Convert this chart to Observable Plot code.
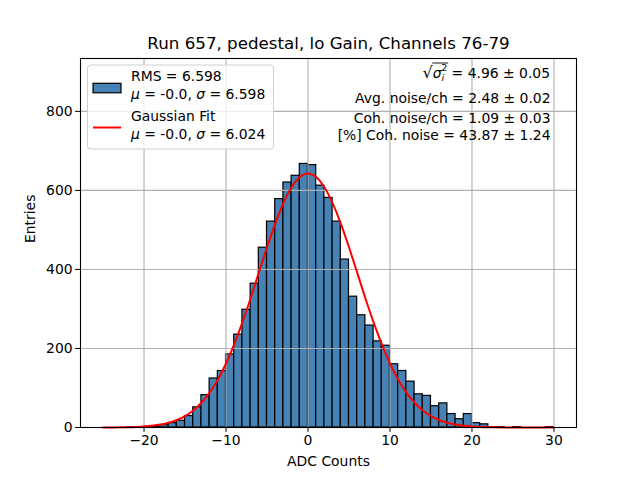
<!DOCTYPE html>
<html>
<head>
<meta charset="utf-8">
<script src="https://cdn.jsdelivr.net/npm/d3@7"></script>
<script src="https://cdn.jsdelivr.net/npm/@observablehq/plot@0.6"></script>
<style>
  html, body { margin: 0; padding: 0; background: white; }
  svg text { font-family: "DejaVu Sans", sans-serif; }
</style>
</head>
<body>
<div id="chart"></div>
<script>
// Histogram bins (left edges, width 1) and counts
const binStarts = [-22,-21,-20,-19,-18,-17,-16,-15,-14,-13,-12,-11,-10,-9,-8,-7,-6,-5,-4,-3,-2,-1,0,1,2,3,4,5,6,7,8,9,10,11,12,13,14,15,16,17,18,19,20,21,22,23,24,25,26,27,28,29];
const counts    = [1,1,2,3,6,11,17,29,51,82,124,143,185,235,298,364,455,521,578,620,637,667,664,612,581,521,425,331,284,258,218,207,160,143,116,84,80,54,61,34,21,34,11,8,1,1,0,1,0,0,0,1];
const binWidth = 1;

// Gaussian fit curve
const fitX = [-25,-24,-23,-22,-21,-20,-19,-18,-17,-16,-15,-14,-13,-12,-11,-10,-9,-8,-7,-6,-5,-4,-3,-2,-1,0,1,2,3,4,5,6,7,8,9,10,11,12,13,14,15,16,17,18,19,20,21,22,23,24,25,26,27,28,29,30];
const fitY = [0.12,0.23,0.44,0.82,1.48,2.6,4.45,7.4,12.0,18.9,29.0,43.2,62.7,88.4,121,162,211,266,327,392,456,516,568,608,634,643,634,608,568,516,456,392,327,266,211,162,121,88.4,62.7,43.2,29.0,18.9,12.0,7.4,4.45,2.6,1.48,0.82,0.44,0.23,0.12,0.06,0.03,0.01,0.005,0.002];

// Tick labels
const xTicks = [-20,-10,0,10,20,30];
const yTicks = [0,200,400,600,800];

const title = "Run 657, pedestal, lo Gain, Channels 76-79";
const xLabel = "ADC Counts";
const yLabel = "Entries";
const statLines = ["Avg. noise/ch = 2.48 ± 0.02", "Coh. noise/ch = 1.09 ± 0.03", "[%] Coh. noise = 43.87 ± 1.24"];
const statOffsets = [34.4, 54.4, 71.2];

const bins = binStarts.map((s, i) => ({x1: s, x2: s + binWidth, y: counts[i]})).filter(d => d.y > 0);
const fit = fitX.map((x, i) => ({x, y: fitY[i]}));

const fs = 13.9;
const plot = Plot.plot({
  width: 640,
  height: 480,
  marginLeft: 80,
  marginRight: 64,
  marginTop: 58,
  marginBottom: 53,
  style: {fontFamily: "DejaVu Sans", fontSize: fs + "px", color: "black", background: "white"},
  x: {domain: [-27.75, 32.75]},
  y: {domain: [0, 933.8]},
  marks: [
    Plot.rectY(bins, {x1: "x1", x2: "x2", y: "y", fill: "#4682b4", stroke: "black", strokeWidth: 1.2}),
    Plot.gridX(xTicks, {stroke: "#b0b0b0", strokeOpacity: 1, strokeWidth: 1.1}),
    Plot.gridY(yTicks, {stroke: "#b0b0b0", strokeOpacity: 1, strokeWidth: 1.1}),
    Plot.line(fit, {x: "x", y: "y", stroke: "red", strokeWidth: 2, curve: "catmull-rom"}),
    Plot.axisX({ticks: xTicks, tickSize: 4.9, tickPadding: 3, label: null, fontSize: fs, tickFormat: d => d < 0 ? "\u2212" + Math.abs(d) : String(d)}),
    Plot.axisY({ticks: yTicks, tickSize: 4.9, tickPadding: 3, label: null, fontSize: fs}),
    Plot.frame({stroke: "black", strokeWidth: 1.1}),
    Plot.text([title], {frameAnchor: "top", dy: -21, fontSize: 16.7, fill: "black"}),
    Plot.text([xLabel], {frameAnchor: "bottom", dy: 38, fontSize: fs, fill: "black"}),
    Plot.text([yLabel], {frameAnchor: "left", dx: -50, rotate: -90, fontSize: fs, fill: "black"}),
    ...statLines.map((s, i) => Plot.text([s], {frameAnchor: "top-right", textAnchor: "end", dx: -26, dy: statOffsets[i], fontSize: fs, fill: "black"}))
  ]
});

document.getElementById("chart").appendChild(plot);

// Legend and math annotation (overlay in pixel space)
const svg = d3.select(plot);
const g = svg.append("g").attr("text-anchor", "start");
g.append("rect").attr("x", 87.5).attr("y", 65).attr("width", 186).attr("height", 84).attr("rx", 3)
  .attr("fill", "white").attr("fill-opacity", 0.8).attr("stroke", "#d0d0d0").attr("stroke-width", 1);
g.append("rect").attr("x", 93).attr("y", 83.3).attr("width", 28).attr("height", 9.5)
  .attr("fill", "#4682b4").attr("stroke", "black").attr("stroke-width", 1.2);
g.append("line").attr("x1", 93).attr("x2", 121).attr("y1", 127.5).attr("y2", 127.5)
  .attr("stroke", "red").attr("stroke-width", 2);
const legendLines = [
  {y: 76.5, html: "RMS = 6.598"},
  {y: 94, html: "<tspan font-style='italic'>μ</tspan> = -0.0, <tspan font-style='italic'>σ</tspan> = 6.598"},
  {y: 116.5, html: "Gaussian Fit"},
  {y: 134, html: "<tspan font-style='italic'>μ</tspan> = -0.0, <tspan font-style='italic'>σ</tspan> = 6.024"}
];
legendLines.forEach(l => {
  g.append("text").attr("x", 131).attr("y", l.y).attr("dy", "0.35em").attr("text-anchor", "start")
    .attr("font-size", fs).attr("font-family", "DejaVu Sans").attr("fill", "black").html(l.html);
});
const m = g.append("text").attr("x", 550).attr("y", 77.7).attr("text-anchor", "end")
  .attr("font-size", fs).attr("font-family", "DejaVu Sans").attr("fill", "black")
  .html("<tspan font-size='16'>√</tspan><tspan font-style='italic'>σ</tspan><tspan font-size='9.5' font-style='italic' dy='3'>i</tspan><tspan font-size='9.5' dy='-10' dx='-3'>2</tspan><tspan dy='7'> = 4.96 ± 0.05</tspan>");
const node = m.node();
try {
  const sx = node.getEndPositionOfChar(0).x;
  const ex = node.getEndPositionOfChar(3).x;
  g.append("line").attr("x1", sx - 0.5).attr("x2", ex + 1).attr("y1", 63).attr("y2", 63)
    .attr("stroke", "black").attr("stroke-width", 0.9);
} catch (e) {}
</script>
</body>
</html>
